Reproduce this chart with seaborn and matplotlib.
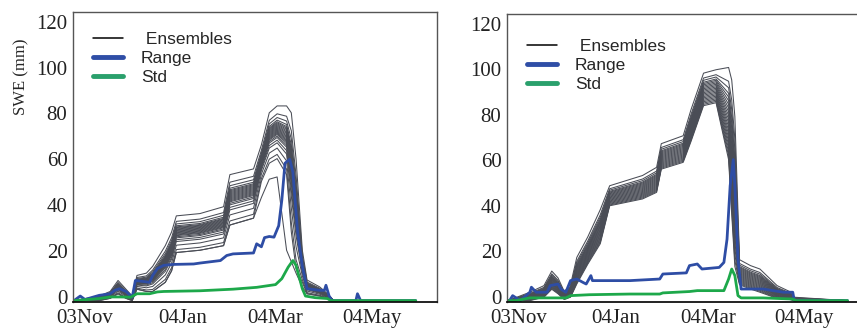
import numpy as np
import pandas as pd
import matplotlib
matplotlib.use("Agg")
import matplotlib.pyplot as plt
import matplotlib.transforms as mtransforms
from matplotlib.lines import Line2D
import seaborn as sns

# x values are days after 03Nov
tick_days = [0, 62, 121, 182]
tick_labels = ['03Nov', '04Jan', '04Mar', '04May']

# ---- left panel ----
days1 = [0, 16, 23, 28, 33, 37, 40, 46, 50, 58, 62, 65, 80, 95, 99, 114, 119, 124, 129, 135, 138, 141, 145, 148, 156, 161, 165, 217]
upper1 = [0, 2, 4, 8.8, 5, 2, 11, 12, 15, 24, 30, 37, 38, 41, 55, 57.5, 68, 82, 85, 85, 82, 62, 22, 9, 6, 3, 0, 0]
lower1 = [0, 0, 1, 3, 1, 0, 5, 4, 4, 8, 13, 21, 22, 24, 33, 36, 52, 60, 62, 55, 30, 14, 8, 3, 2, 1, 0, 0]
outlier1 = [0, 0, 1, 3, 1, 0, 5, 4, 4, 8, 13, 21, 22, 24, 33, 36, 45, 53, 54, 22, 17, 12, 6, 3, 2, 1, 0, 0]
weights1 = [0, 0.08, 0.2, 0.3, 0.35, 0.4, 0.43, 0.46, 0.48, 0.5, 0.52, 0.54,
            0.56, 0.58, 0.6, 0.62, 0.64, 0.66, 0.68, 0.7, 0.73, 0.78, 0.85, 1.0]

range1_days = [0, 4, 7, 16, 23, 26, 29, 33, 37, 39, 48, 50, 53, 57, 63, 76, 80, 93, 97, 101, 114, 116, 119, 121, 124, 127,
               130, 132, 134, 137, 139, 142, 145, 148, 156, 159, 160, 162, 164, 179, 180, 182, 217]
range1 = [0, 2, 0.5, 2.3, 3, 4.5, 5.2, 4, 1.5, 8.8, 8, 11, 14, 15.4, 15.8, 16, 16.4, 17.5, 19.7, 20.4, 20.8, 24.8, 23.5,
          27.5, 28, 27.7, 32.7, 44, 60, 61.7, 56, 30, 15, 5.2, 4.5, 4.5, 6.7, 2, 0, 0, 3, 0, 0]
std1_days = [0, 16, 23, 30, 36, 40, 48, 53, 57, 80, 101, 116, 122, 128, 132, 136, 139, 141, 145, 147, 153, 161, 163, 217]
std1 = [0, 0.9, 1.6, 1.6, 1.5, 3, 3, 3.8, 4, 4.3, 5, 5.8, 6.4, 7, 9.6, 14.6, 17.5, 15.4, 5.2, 2, 1.3, 0.9, 0, 0]

# ---- right panel ----
days2 = [0, 14, 23, 28, 32, 36, 40, 44, 51, 59, 65, 86, 95, 98, 112, 117, 125, 133, 141, 143, 145, 148, 155, 161, 172, 180, 183, 217]
upper2 = [0, 3.7, 6.6, 13, 10, 4, 7, 19, 28, 40, 50.5, 55, 58.6, 69, 72.5, 84, 100, 101.5, 102.5, 97, 81, 18, 15.4, 13.9, 6.6, 4, 1.5, 0]
lower2 = [0, 0, 1.5, 5, 3, 0.5, 1.5, 7.3, 16, 25, 41.7, 44.7, 47.6, 57.8, 60.8, 70, 85.7, 87, 62, 38, 15, 7, 5.1, 3.7, 1, 0.5, 0, 0]
weights2 = [0, 0.04, 0.08, 0.12, 0.16, 0.2, 0.24, 0.28, 0.32, 0.36, 0.4,
            0.44, 0.48, 0.52, 0.56, 0.6, 0.64, 0.68, 0.72, 0.78, 0.85, 1.0]

range2_days = [0, 1, 3, 8, 14, 15, 18, 25, 27, 32, 34, 37, 40, 44, 48, 50, 53, 54, 78, 97, 99, 114, 116, 121, 124, 135,
               138, 140, 142, 144, 145, 147, 149, 163, 176, 182, 183, 217]
range2 = [0, 0, 2.2, 0, 3.7, 5.9, 3.7, 3.7, 6.6, 7.3, 5, 3.7, 8.8, 9.5, 8, 7.3, 11, 8.8, 8.8, 9.5, 11.7, 12.2, 15.4,
          16.1, 13.9, 14.6, 16.8, 27, 50.5, 62, 50.5, 18.3, 5.1, 5.1, 3.7, 3.7, 0, 0]
std2_days = [0, 5, 14, 37, 40, 52, 78, 97, 99, 116, 121, 138, 141, 143, 145, 147, 149, 163, 182, 184, 217]
std2 = [0, 0, 1.2, 1.2, 2.2, 2.6, 2.9, 2.9, 3.4, 4, 4.4, 4.4, 9.5, 13.9, 11, 2.2, 1.2, 1.2, 0.7, 0, 0]

ens_color = '#4a4d56'
range_color = '#2e4da5'
std_color = '#1da84a'


def ensemble_frame(days, lower, upper, weights, extra=None):
    lower = np.array(lower, float)
    upper = np.array(upper, float)
    rows = []
    for i, w in enumerate(weights):
        vals = lower + w * (upper - lower)
        rows.append(pd.DataFrame({'day': days, 'swe': vals, 'member': i}))
    if extra is not None:
        rows.append(pd.DataFrame({'day': days, 'swe': extra, 'member': len(weights)}))
    return pd.concat(rows, ignore_index=True)


sns.set_style("white")
plt.rcParams['font.family'] = ['Liberation Serif', 'DejaVu Serif']

fig = plt.figure(figsize=(8.57, 3.29), dpi=100)
ax1 = fig.add_axes([73 / 857, 1 - 302 / 329, 364 / 857, 290 / 329])
ax2 = fig.add_axes([507 / 857, 1 - 302 / 329, 364 / 857, 288 / 329])

panels = [
    (ax1, ensemble_frame(days1, lower1, upper1, weights1, outlier1), range1_days, range1, std1_days, std1, 230.5, 0.93),
    (ax2, ensemble_frame(days2, lower2, upper2, weights2), range2_days, range2, std2_days, std2, 232, 0.913),
]

for ax, ens, rd, rv, sd, sv, xmax, leg_y in panels:
    sns.lineplot(data=ens, x='day', y='swe', units='member', estimator=None,
                 color=ens_color, lw=0.75, ax=ax, legend=False)
    sns.lineplot(x=rd, y=rv, color=range_color, lw=2.0, ax=ax, estimator=None)
    sns.lineplot(x=sd, y=sv, color=std_color, lw=2.0, ax=ax, estimator=None)

    ax.set_xlim(-0.6, xmax)
    ax.set_ylim(-0.6, 126)
    ax.set_yticks(range(0, 121, 20))
    ax.set_xticks(tick_days)
    ax.set_xticklabels(tick_labels)
    ax.set_xlabel('')
    ax.set_ylabel('')
    ax.tick_params(axis='both', direction='out', length=3, width=1, labelsize=15, colors='#222222')
    ax.tick_params(axis='y', pad=1)
    ax.tick_params(axis='x', pad=2)
    x_off = mtransforms.ScaledTranslation(11 / 100, 0, fig.dpi_scale_trans)
    for lab in ax.get_xticklabels():
        lab.set_transform(lab.get_transform() + x_off)
    y_off = mtransforms.ScaledTranslation(0, 4 / 100, fig.dpi_scale_trans)
    for lab in ax.get_yticklabels():
        lab.set_transform(lab.get_transform() + y_off)
    for side in ['left', 'top', 'right']:
        ax.spines[side].set_color('#555555')
        ax.spines[side].set_linewidth(1.0)
    ax.spines['bottom'].set_color('#111111')
    ax.spines['bottom'].set_linewidth(1.3)

    handles = [Line2D([], [], color='black', lw=1.1),
               Line2D([], [], color='#2f4ea6', lw=3.5),
               Line2D([], [], color='#2aa06c', lw=3.5)]
    ax.legend(handles, [' Ensembles', 'Range', 'Std'], loc='upper left',
              bbox_to_anchor=(0.055, leg_y), frameon=False, borderpad=0, borderaxespad=0,
              handlelength=1.75, handletextpad=1.0, labelspacing=0.22,
              prop={'family': 'Liberation Sans', 'size': 12.5})

ax1.set_ylabel('SWE (mm)', fontsize=12)
ax1.yaxis.set_label_coords(-0.121, 0.776)

fig.savefig('out.png', dpi=100)
